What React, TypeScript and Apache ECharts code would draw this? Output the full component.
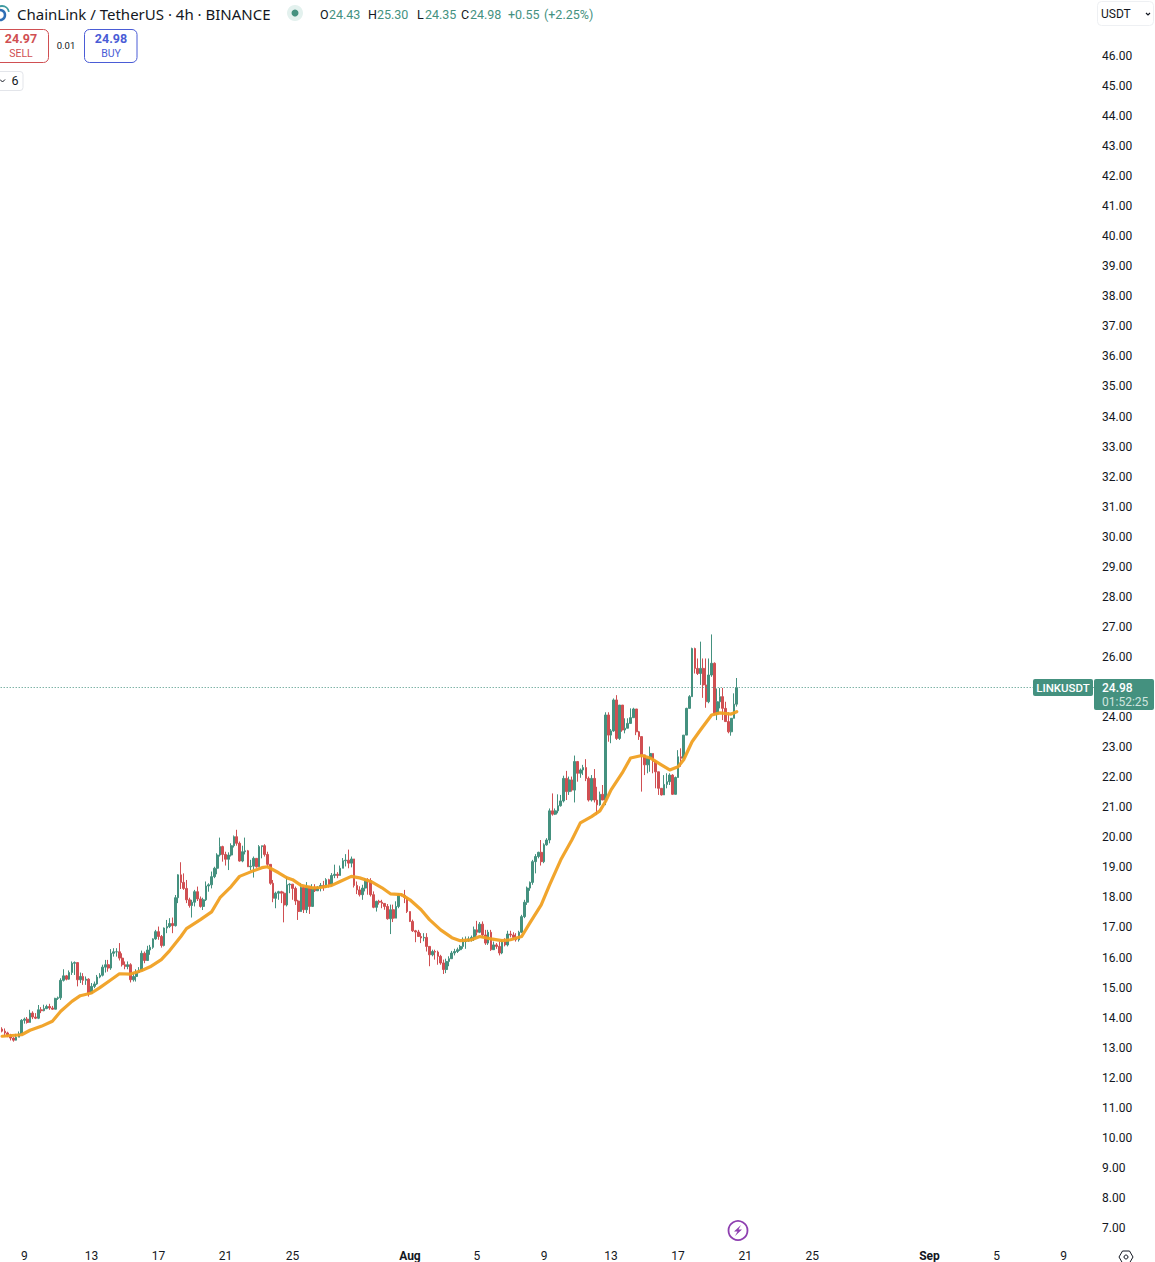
import React, { useEffect, useRef } from "react";
import * as echarts from "echarts";

const firstOpen = 13.62;
const closes = [
  13.55,13.49,13.42,13.32,13.25,13.35,13.46,13.91,13.95,13.84,
  14.15,14.02,13.98,14.26,14.23,14.30,14.37,14.32,14.28,14.64,
  14.66,15.24,15.39,15.28,15.50,15.81,15.83,15.26,15.37,15.24,
  15.28,14.81,15.04,15.12,15.35,15.41,15.68,15.76,15.65,16.14,
  16.19,16.19,15.98,15.76,15.70,15.76,15.26,15.37,15.50,15.57,
  16.14,15.90,16.25,16.34,
  16.62,16.86,16.70,16.40,16.98,17.03,17.13,17.06,17.99,18.75,
  18.50,18.30,17.92,17.73,17.84,18.19,17.95,17.70,17.92,18.38,
  18.42,18.69,18.97,19.41,19.69,19.43,19.27,19.41,19.72,20.02,
  19.80,19.21,19.52,19.55,19.02,19.04,19.30,19.02,19.69,19.72,
  19.43,19.10,18.47,17.97,18.14,18.19,18.14,17.75,18.42,18.44,
  18.30,17.88,17.53,
  18.33,17.59,18.37,17.70,18.33,18.22,18.34,18.40,18.33,18.59,
  18.42,18.73,18.77,18.73,18.97,19.22,19.24,19.14,19.28,18.40,
  18.25,18.09,18.31,18.59,18.56,18.09,17.67,17.87,17.84,17.80,
  17.70,17.29,17.59,17.31,17.70,18.09,18.07,18.00,17.53,17.20,
  16.89,16.85,16.70,16.65,16.67,16.37,16.09,16.20,16.18,16.04,
  15.82,15.60,15.87,15.96,
  16.15,16.20,16.26,16.37,16.53,16.55,16.62,16.67,16.92,16.84,
  17.11,16.75,16.48,16.84,16.26,16.42,16.37,16.15,16.53,16.42,
  16.78,16.75,16.67,16.59,16.84,17.36,17.84,18.31,18.50,19.19,
  19.36,19.50,19.19,19.75,19.91,20.88,20.77,20.88,21.05,21.21,
  21.96,21.52,21.91,21.57,22.52,22.13,22.24,22.32,21.96,21.24,
  21.96,21.24,21.08,21.43,
  21.24,24.07,23.40,23.54,24.57,23.29,24.40,23.57,23.63,23.79,
  23.98,24.27,23.51,23.35,22.74,22.41,22.63,22.79,22.52,22.18,
  21.63,21.41,21.76,21.85,22.07,21.43,21.99,22.68,22.63,23.40,
  24.29,24.68,26.28,25.62,25.45,25.62,25.07,24.51,25.40,25.79,
  24.12,24.51,24.68,24.29,23.85,23.51,23.96,24.43,24.98,
];
const highs = [
  13.68,13.64,13.53,13.46,13.35,13.46,13.54,13.95,14.00,14.02,
  14.26,14.21,14.15,14.42,14.35,14.43,14.43,14.46,14.39,14.66,
  14.70,15.31,15.61,15.42,15.57,15.87,15.87,15.83,15.50,15.48,
  15.37,15.31,15.15,15.20,15.42,15.48,15.76,15.92,15.92,16.28,
  16.31,16.31,16.48,16.14,15.87,15.87,15.81,15.50,15.61,15.68,
  16.23,16.20,16.39,16.42,
  16.64,16.92,17.03,16.75,17.00,17.25,17.31,17.33,18.08,18.77,
  19.17,18.80,18.58,17.99,17.92,18.25,18.36,18.03,17.99,18.53,
  18.47,18.86,19.02,19.47,19.99,19.72,19.52,19.50,19.80,20.06,
  20.25,19.86,19.72,19.99,19.58,19.25,19.36,19.30,19.74,19.72,
  19.77,19.52,19.08,18.58,18.19,18.22,18.22,18.19,18.69,18.47,
  18.44,18.36,17.92,
  18.48,18.37,18.51,18.31,18.44,18.44,18.37,18.48,18.55,18.64,
  18.62,18.81,19.09,18.84,19.06,19.31,19.44,19.59,19.36,19.11,
  18.53,18.37,18.42,18.64,18.64,18.64,18.20,17.89,17.92,17.92,
  17.81,17.78,17.76,17.76,17.87,18.14,18.11,18.25,18.03,17.53,
  17.26,16.92,16.92,16.81,16.81,16.81,16.37,16.26,16.26,16.23,
  16.09,15.93,15.96,16.04,
  16.22,16.29,16.33,16.42,16.67,16.70,16.70,16.73,17.03,17.22,
  17.18,17.20,16.92,16.92,16.92,16.53,16.48,16.53,16.59,16.64,
  16.89,16.89,16.84,16.81,16.89,17.42,17.92,18.36,18.53,19.25,
  19.44,19.52,19.91,19.80,19.97,20.96,21.46,20.96,21.43,21.41,
  22.05,22.21,22.02,22.02,22.72,22.54,22.29,22.41,22.60,22.02,
  22.07,22.27,21.68,21.52,
  21.74,24.16,24.16,23.60,24.62,24.73,24.40,24.23,23.96,23.96,
  24.29,24.31,23.79,23.54,23.35,22.72,22.63,23.02,22.79,22.57,
  22.18,21.46,22.07,22.13,22.13,22.10,22.02,22.90,22.96,23.40,
  24.31,24.73,26.31,26.31,25.95,26.51,25.95,25.95,25.95,26.75,
  25.82,24.95,24.97,24.97,24.51,24.16,23.96,24.79,25.30,
];
const lows = [
  13.51,13.40,13.35,13.24,13.20,13.24,13.35,13.46,13.80,13.80,
  13.84,13.95,13.95,13.95,14.15,14.21,14.28,14.26,14.26,14.28,
  14.59,14.59,15.20,15.24,15.26,15.42,15.42,15.04,15.15,15.09,
  15.09,14.70,14.81,14.98,15.09,15.31,15.37,15.50,15.53,15.59,
  16.03,16.03,15.90,15.70,15.61,15.61,15.17,15.20,15.20,15.48,
  15.59,15.81,15.90,16.09,
  16.29,16.59,16.59,16.33,16.37,16.81,16.98,16.81,17.03,17.81,
  18.28,18.25,17.81,17.66,17.33,17.70,17.88,17.66,17.58,17.88,
  18.19,18.30,18.64,18.77,19.36,19.19,19.06,18.91,19.36,19.66,
  19.72,19.19,19.17,19.43,19.02,18.91,18.66,18.99,19.02,19.30,
  19.36,19.02,18.42,17.84,17.64,17.92,17.81,17.17,17.70,18.14,
  17.92,17.75,17.25,
  17.53,17.48,17.48,17.45,18.20,18.18,18.25,18.20,18.22,18.31,
  18.33,18.37,18.64,18.64,18.73,18.97,19.03,18.97,19.00,18.33,
  18.11,18.03,17.92,18.20,18.09,18.03,17.64,17.53,17.76,17.64,
  17.59,17.26,16.78,17.18,17.42,17.64,18.03,17.81,17.48,17.18,
  16.85,16.51,16.70,16.48,16.54,16.20,15.71,16.04,15.93,15.76,
  15.76,15.45,15.48,15.71,
  15.96,16.07,16.15,16.22,16.29,16.29,16.53,16.53,16.55,16.73,
  16.81,16.70,16.42,16.42,16.22,16.29,16.29,16.07,16.11,16.37,
  16.37,16.67,16.59,16.53,16.53,16.81,17.31,17.75,18.22,18.42,
  18.80,19.30,19.06,19.14,19.72,19.80,20.72,20.74,20.80,21.02,
  21.16,21.24,21.41,21.52,21.16,21.85,21.98,22.07,21.87,21.19,
  21.19,21.16,20.74,21.05,
  21.24,21.07,23.18,23.13,23.51,23.24,23.24,23.51,23.46,23.63,
  23.90,24.16,23.40,23.24,21.52,22.07,22.13,22.18,22.13,21.63,
  21.41,21.39,21.41,21.63,21.74,21.41,21.96,22.57,22.35,23.29,
  24.16,24.40,25.62,25.45,25.40,25.07,24.64,24.31,24.46,25.34,
  24.07,23.90,24.29,23.90,23.85,23.46,23.38,24.18,24.35,
];

const maIndex = [
  0,7,10,14,18,21,25,28,32,35,39,42,46,50,53,57,60,64,66,71,75,78,82,85,89,93,95,99,102,104,
  107,111,114,118,121,125,128,132,136,139,143,146,150,153,157,161,164,168,171,175,179,182,186,189,193,196,
  200,204,207,211,214,216,218,222,225,229,232,236,239,242,244,247,250,254,257,261,263,
];
const maValues = [
  13.38,13.43,13.58,13.71,13.88,14.21,14.54,14.73,14.82,15.00,15.26,15.46,15.45,15.57,15.69,15.93,16.23,16.70,16.96,17.26,17.52,17.99,18.36,18.70,18.85,18.99,19.02,18.82,18.65,18.59,
  18.40,18.32,18.33,18.40,18.53,18.70,18.65,18.53,18.32,18.12,18.09,17.92,17.59,17.26,16.92,16.66,16.56,16.59,16.70,16.62,16.56,16.59,16.70,17.16,17.75,18.42,
  19.25,19.92,20.48,20.69,20.88,21.19,21.58,22.14,22.64,22.72,22.64,22.41,22.24,22.35,22.58,23.18,23.57,24.07,24.14,24.10,24.18,
];

const categoryCount = 392;
const tickIndex = [8, 32, 56, 80, 104, 146, 170, 194, 218, 242, 266, 290, 332, 356, 380];
const tickLabels = ["9", "13", "17", "21", "25", "Aug", "5", "9", "13", "17", "21", "25", "Sep", "5", "9"];
const monthLabels = ["Aug", "Sep"];

const lastPrice = 24.98;
const priceMin = 7;
const priceMax = 46;

const GREEN = "#44917f";
const RED = "#d04f52";
const BLUE = "#4a5cd6";
const INK = "#131722";
const FONT = "Roboto, sans-serif";

function txt(x: number, y: number, text: string, fill: string, size: number, extra: any = {}) {
  return {
    type: "text",
    x,
    y,
    silent: true,
    z: 20,
    style: {
      text,
      fill,
      font: `${extra.weight || "normal"} ${size}px ${extra.family || FONT}`,
      align: extra.align || "left",
      verticalAlign: "middle",
    },
  };
}

export default function App() {
  const ref = useRef<HTMLDivElement>(null);

  useEffect(() => {
    if (!ref.current) return;
    const chart = echarts.init(ref.current, undefined, { renderer: "svg" });
    const categories = Array.from({ length: categoryCount }, (_, i) => {
      const k = tickIndex.indexOf(i);
      return k >= 0 ? tickLabels[k] : "";
    });
    const candles = closes.map((c, i) => {
      const o = i === 0 ? firstOpen : closes[i - 1];
      return [o, c, Math.min(lows[i], o, c), Math.max(highs[i], o, c)];
    });
    const ma = maIndex.map((idx, i) => [idx, maValues[i]]);

    const rectEl = (x: number, y: number, w: number, h: number, fill: string, stroke: string, r: number) => ({
      type: "rect",
      silent: true,
      z: 19,
      shape: { x, y, width: w, height: h, r },
      style: { fill, stroke, lineWidth: stroke === "none" ? 0 : 1 },
    });

    chart.setOption({
      animation: false,
      backgroundColor: "#ffffff",
      grid: { left: 0.7, right: 59.3, top: 55.9, height: 1173, containLabel: false },
      xAxis: {
        type: "category",
        data: categories,
        boundaryGap: true,
        axisLine: { show: false },
        axisTick: { show: false },
        splitLine: { show: false },
        axisLabel: {
          interval: (index: number) => tickIndex.includes(index),
          margin: 22,
          color: INK,
          fontFamily: FONT,
          fontSize: 12,
          showMinLabel: true,
          showMaxLabel: true,
          hideOverlap: false,
          formatter: (v: string) => (monthLabels.includes(v) ? `{b|${v}}` : v),
          rich: { b: { fontWeight: "bold", fontSize: 12, fontFamily: FONT, color: INK } },
        },
      },
      yAxis: {
        type: "value",
        position: "right",
        min: priceMin,
        max: priceMax,
        interval: 1,
        scale: true,
        axisLine: { show: false },
        axisTick: { show: false },
        splitLine: { show: false },
        axisLabel: {
          margin: 6.3,
          color: INK,
          fontFamily: FONT,
          fontSize: 12,
          formatter: (v: number) => v.toFixed(2),
        },
      },
      series: [
        {
          type: "candlestick",
          data: candles,
          barWidth: 2.2,
          clip: false,
          itemStyle: { color: GREEN, color0: RED, borderColor: GREEN, borderColor0: RED, borderWidth: 1 },
          markLine: {
            silent: true,
            symbol: "none",
            label: { show: false },
            lineStyle: { color: GREEN, type: [1, 2], width: 1, opacity: 1 },
            data: [{ yAxis: lastPrice }],
          },
        },
        {
          type: "line",
          data: ma,
          showSymbol: false,
          smooth: false,
          z: 5,
          lineStyle: { color: "#f0a022", width: 3.2, opacity: 0.95, join: "round", cap: "round" },
          itemStyle: { color: "#f0a022" },
        },
      ],
      graphic: [
        { type: "circle", silent: true, z: 18, shape: { cx: 0, cy: 15, r: 5 }, style: { fill: "none", stroke: "#2f6fb5", lineWidth: 2.5 } },
        { type: "arc", silent: true, z: 18, shape: { cx: 2, cy: 13, r: 7, startAngle: -Math.PI * 0.95, endAngle: -Math.PI * 0.05 }, style: { fill: "none", stroke: "#3f9aa0", lineWidth: 1.8 } },
        txt(17, 13.5, "ChainLink / TetherUS · 4h · BINANCE", INK, 15, { family: "'Noto Sans', sans-serif" }),
        { type: "circle", silent: true, z: 18, shape: { cx: 295, cy: 13, r: 8 }, style: { fill: "#e3f1ee" } },
        { type: "circle", silent: true, z: 19, shape: { cx: 295, cy: 13, r: 3.5 }, style: { fill: GREEN } },
        txt(320, 14, "O", INK, 12.5),
        txt(329, 14, "24.43", GREEN, 12.5),
        txt(368, 14, "H", INK, 12.5),
        txt(377, 14, "25.30", GREEN, 12.5),
        txt(417, 14, "L", INK, 12.5),
        txt(425, 14, "24.35", GREEN, 12.5),
        txt(461, 14, "C", INK, 12.5),
        txt(470, 14, "24.98", GREEN, 12.5),
        txt(508, 14, "+0.55", GREEN, 12.5),
        txt(544, 14, "(+2.25%)", GREEN, 12.5),

        rectEl(-8, 29.5, 56.5, 33, "#ffffff", RED, 5),
        txt(21, 38.5, "24.97", RED, 12.5, { align: "center", weight: "bold" }),
        txt(21, 53, "SELL", RED, 10.5, { align: "center" }),
        txt(66, 45.5, "0.01", INK, 9.5, { align: "center" }),
        rectEl(84.5, 29.5, 52.5, 33, "#ffffff", BLUE, 5),
        txt(111, 38.5, "24.98", BLUE, 12.5, { align: "center", weight: "bold" }),
        txt(111, 53, "BUY", BLUE, 10.5, { align: "center" }),

        rectEl(-8, 71.5, 31, 19, "#ffffff", "#e3e5ea", 3),
        { type: "polyline", silent: true, z: 20, shape: { points: [[0, 79.5], [2.5, 82], [5, 79.5]] }, style: { fill: "none", stroke: INK, lineWidth: 1 } },
        txt(15, 80.5, "6", INK, 12.5, { align: "center" }),

        rectEl(1097.5, 1.5, 56, 24, "#ffffff", "#eef0f3", 4),
        txt(1101, 14, "USDT", INK, 12),
        { type: "polyline", silent: true, z: 20, shape: { points: [[1146, 13], [1148, 15], [1150, 13]] }, style: { fill: "none", stroke: INK, lineWidth: 1.2 } },

        rectEl(1033, 679, 60, 17, GREEN, "none", 2),
        txt(1063, 688, "LINKUSDT", "#ffffff", 11.5, { align: "center", weight: "500" }),
        rectEl(1094, 679, 60, 31, GREEN, "none", 2),
        txt(1102, 688, "24.98", "#ffffff", 12, { weight: "500" }),
        txt(1102, 702, "01:52:25", "#cfe5df", 12),

        { type: "circle", silent: true, z: 18, shape: { cx: 738, cy: 1230.5, r: 9.5 }, style: { fill: "#ffffff", stroke: "#8e3fb0", lineWidth: 1.8 } },
        { type: "polygon", silent: true, z: 19, shape: { points: [[741, 1225], [734, 1231.5], [737.5, 1231.5], [735, 1236], [742, 1229.5], [738.5, 1229.5]] }, style: { fill: "#8e3fb0" } },

        { type: "polygon", silent: true, z: 19, shape: { points: [[1119, 1257], [1122.5, 1251], [1129.5, 1251], [1133, 1257], [1129.5, 1263], [1122.5, 1263]] }, style: { fill: "#ffffff", stroke: INK, lineWidth: 1 } },
        { type: "circle", silent: true, z: 20, shape: { cx: 1126, cy: 1257, r: 2 }, style: { fill: "none", stroke: INK, lineWidth: 1 } },
      ],
    });
    return () => chart.dispose();
  }, []);

  return (
    <div
      ref={ref}
      style={{ position: "fixed", left: 0, top: 0, width: 1155, height: 1262, background: "#ffffff" }}
    />
  );
}
